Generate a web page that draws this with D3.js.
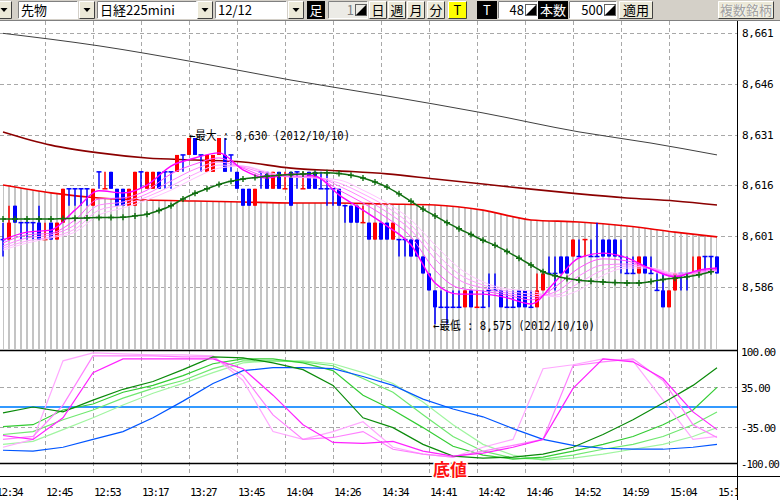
<!DOCTYPE html>
<html>
<head>
<meta charset="utf-8">
<script src="https://cdn.jsdelivr.net/npm/d3@7"></script>
<style>
body { margin: 0; background: #fff; }
svg { display: block; }
</style>
</head>
<body>
<svg id="chart" width="780" height="500"></svg>
<script>
// one candle per 48 ticks, 120 bars
let opens = [
  8600, 8600, 8610, 8605, 8605, 8605, 8605, 8600, 8605, 8600,
  8605, 8615, 8615, 8615, 8615, 8610, 8620, 8615, 8620, 8615,
  8615, 8610, 8610, 8620, 8615, 8615, 8620, 8620, 8620, 8620,
  8625, 8625, 8630, 8625, 8620, 8620, 8625, 8625, 8625, 8620,
  8615, 8615, 8610, 8620, 8620, 8615, 8620, 8615, 8620, 8620,
  8615, 8620, 8620, 8615, 8615, 8615, 8615, 8610, 8610, 8610,
  8605, 8605, 8600, 8605, 8605, 8600, 8600, 8600, 8600, 8600,
  8595, 8590, 8585, 8580, 8580, 8580, 8580, 8580, 8585, 8580,
  8580, 8585, 8585, 8585, 8580, 8580, 8585, 8585, 8580, 8580,
  8585, 8590, 8590, 8595, 8595, 8595, 8595, 8600, 8595, 8595,
  8600, 8600, 8600, 8595, 8590, 8590, 8590, 8595, 8590, 8585,
  8585, 8580, 8585, 8590, 8590, 8590, 8590, 8595, 8595, 8595
]
let highs = [
  8605, 8610, 8610, 8605, 8605, 8605, 8610, 8605, 8605, 8605,
  8615, 8615, 8615, 8615, 8615, 8615, 8620, 8620, 8620, 8615,
  8615, 8615, 8620, 8620, 8620, 8620, 8620, 8620, 8620, 8625,
  8625, 8630, 8630, 8625, 8625, 8625, 8630, 8630, 8625, 8620,
  8615, 8615, 8615, 8620, 8620, 8620, 8620, 8620, 8620, 8620,
  8620, 8620, 8620, 8620, 8620, 8615, 8615, 8610, 8610, 8610,
  8610, 8605, 8605, 8605, 8605, 8605, 8600, 8600, 8600, 8600,
  8595, 8590, 8585, 8585, 8585, 8585, 8585, 8585, 8585, 8585,
  8585, 8590, 8590, 8585, 8585, 8585, 8585, 8585, 8585, 8590,
  8590, 8595, 8595, 8595, 8595, 8600, 8600, 8600, 8600, 8605,
  8600, 8600, 8600, 8600, 8595, 8595, 8595, 8595, 8595, 8590,
  8590, 8585, 8590, 8590, 8590, 8595, 8595, 8595, 8595, 8595
]
let lows = [
  8595, 8600, 8605, 8600, 8600, 8600, 8600, 8600, 8600, 8600,
  8605, 8610, 8610, 8610, 8610, 8610, 8615, 8615, 8615, 8610,
  8610, 8610, 8610, 8615, 8615, 8615, 8615, 8615, 8615, 8620,
  8620, 8625, 8625, 8620, 8620, 8620, 8625, 8620, 8620, 8615,
  8610, 8610, 8610, 8615, 8615, 8615, 8615, 8615, 8610, 8615,
  8615, 8615, 8615, 8615, 8610, 8610, 8610, 8605, 8605, 8605,
  8605, 8600, 8600, 8600, 8600, 8600, 8595, 8595, 8595, 8595,
  8590, 8585, 8575, 8580, 8575, 8580, 8580, 8580, 8580, 8580,
  8580, 8580, 8585, 8580, 8580, 8580, 8580, 8580, 8580, 8580,
  8585, 8590, 8585, 8590, 8590, 8595, 8595, 8595, 8595, 8595,
  8595, 8595, 8595, 8590, 8590, 8590, 8590, 8590, 8590, 8585,
  8580, 8580, 8585, 8585, 8585, 8590, 8590, 8590, 8590, 8590
]
let closes = [
  8600, 8605, 8605, 8605, 8605, 8605, 8600, 8600, 8600, 8605,
  8615, 8615, 8615, 8615, 8615, 8615, 8620, 8615, 8615, 8610,
  8610, 8615, 8620, 8620, 8620, 8620, 8615, 8620, 8620, 8625,
  8625, 8630, 8625, 8625, 8625, 8625, 8630, 8620, 8625, 8615,
  8610, 8610, 8615, 8620, 8615, 8620, 8615, 8615, 8610, 8620,
  8615, 8615, 8615, 8615, 8615, 8615, 8610, 8610, 8605, 8605,
  8605, 8600, 8605, 8600, 8600, 8605, 8600, 8600, 8595, 8595,
  8590, 8585, 8580, 8580, 8580, 8580, 8580, 8585, 8580, 8580,
  8580, 8585, 8585, 8580, 8580, 8580, 8580, 8580, 8580, 8585,
  8590, 8590, 8590, 8590, 8590, 8600, 8595, 8600, 8595, 8595,
  8595, 8595, 8595, 8595, 8590, 8590, 8595, 8590, 8590, 8585,
  8580, 8585, 8590, 8590, 8590, 8590, 8595, 8595, 8595, 8590
]
// r = up (red), b = down (blue)
let sides = 'brbbbbbrbr' + 'rbbbbrbrbb' + 'brrbrrbbbr' + 'brbbrrrbbb' + 'bbrbbrbrbb' +
  'rbbbbbbbbb' + 'rbrbbrbbbb' + 'bbbbbbbrbr' + 'bbbbbbbbbr' + 'rbbbbrbrbb' +
  'bbbbbbrbbb' + 'brrbbrrbbb'

// moving averages, read at sample bars
let longKeys = [0, 16, 32, 48, 64, 80, 96, 108, 119]
let longMa = [8660.9, 8657.2, 8652.4, 8647.1, 8642.4, 8637.4, 8631.8, 8628.5, 8625.0]
let midKeys = [0, 8, 16, 24, 32, 40, 48, 56, 64, 72, 80, 88, 96, 104, 112, 119]
let maroonMa = [8631.8, 8627.9, 8625.6, 8624.1, 8623.5, 8622.9, 8621.1, 8620.3, 8619.4, 8617.9, 8616.4, 8614.9, 8613.5, 8612.3, 8611.4, 8610.2]
let redMa = [8616.1, 8613.8, 8612.3, 8611.7, 8611.4, 8611.1, 8610.8, 8610.8, 8610.5, 8610.2, 8608.7, 8605.8, 8605.2, 8604.0, 8602.2, 8600.8]
let greenKeys = [0, 2, 4, 6, 8, 10, 12, 14, 16, 18, 20, 22, 24, 26, 28, 30, 32, 34, 36, 38, 40, 42, 44, 46, 48, 50, 52, 54, 56, 58,
  60, 62, 64, 66, 68, 70, 72, 74, 76, 78, 80, 82, 84, 86, 88, 90, 92, 94, 96, 98, 100, 102, 104, 106, 108, 110, 112, 114, 116, 118]
let greenMa = [8606.1, 8606.1, 8606.1, 8606.1, 8606.1, 8606.2, 8606.3, 8606.4, 8606.5, 8606.5,
  8606.6, 8607.0, 8607.5, 8608.6, 8610.0, 8612.0, 8613.7, 8615.0, 8616.3, 8617.2,
  8617.9, 8618.3, 8618.7, 8619.0, 8619.2, 8619.4, 8619.6, 8619.7, 8619.5, 8619.0,
  8618.2, 8617.0, 8615.5, 8613.5, 8611.3, 8609.0, 8607.0, 8605.0, 8603.2, 8601.5,
  8599.8, 8598.3, 8596.5, 8594.5, 8592.5, 8590.5, 8589.3, 8588.5, 8588.0, 8587.7,
  8587.5, 8587.3, 8587.2, 8587.2, 8587.6, 8588.2, 8588.6, 8589.0, 8589.6, 8590.5]
let shortKeys = [0, 4, 8, 12, 16, 20, 24, 28, 32, 36, 40, 44, 48, 52, 56, 60, 64, 68, 72, 76, 80, 84, 88, 92, 96, 100, 104, 108, 112, 116, 119]
let pink1 = [8599.9, 8602.2, 8602.8, 8608.7, 8614.4, 8613.8, 8616.1, 8621.7, 8624.1, 8625.6, 8620.6, 8618.2, 8619.4, 8618.8, 8613.2, 8608.7,
  8604.0, 8598.4, 8587.2, 8583.9, 8583.9, 8582.8, 8581.0, 8587.5, 8594.6, 8596.0, 8594.6, 8591.3, 8589.0, 8591.0, 8591.6]
let pink2 = [8599.0, 8601.4, 8601.9, 8605.8, 8612.0, 8612.3, 8614.6, 8619.4, 8622.3, 8624.1, 8621.1, 8618.8, 8618.8, 8618.5, 8614.6, 8610.8,
  8606.4, 8600.8, 8591.0, 8585.7, 8584.8, 8583.6, 8582.2, 8586.0, 8591.6, 8594.3, 8593.7, 8591.3, 8589.3, 8590.7, 8591.3]
let pink3 = [8598.1, 8600.5, 8601.4, 8604.3, 8610.2, 8611.1, 8613.5, 8617.3, 8620.8, 8622.9, 8621.4, 8619.4, 8618.5, 8618.5, 8615.8, 8612.3,
  8608.1, 8602.8, 8594.3, 8588.1, 8585.7, 8584.2, 8583.1, 8584.5, 8589.3, 8592.5, 8592.8, 8591.6, 8589.5, 8590.4, 8591.0]
let pink4 = [8597.5, 8599.6, 8600.8, 8603.1, 8608.7, 8610.2, 8612.6, 8615.8, 8619.4, 8622.0, 8621.7, 8619.7, 8618.5, 8618.2, 8616.7, 8613.5,
  8609.6, 8604.3, 8596.3, 8589.8, 8586.6, 8584.8, 8583.9, 8583.6, 8587.2, 8591.0, 8592.2, 8591.6, 8589.8, 8590.1, 8591.0]
let pink5 = [8596.9, 8599.0, 8600.5, 8602.2, 8607.3, 8609.3, 8611.7, 8614.6, 8618.2, 8621.1, 8621.7, 8620.0, 8618.5, 8618.2, 8617.6, 8614.6,
  8610.8, 8605.8, 8598.4, 8591.6, 8587.5, 8585.4, 8584.8, 8583.1, 8585.1, 8589.5, 8591.6, 8591.6, 8590.1, 8590.1, 8590.7]

// lower oscillator panel
let oscKeys = [0, 5, 10, 15, 20, 25, 30, 35, 40, 45, 50, 55, 60, 65, 70, 75, 80, 85, 90, 95, 100, 105, 110, 115, 119]
let oscGreen0 = [-10.5, 0, -8.8, 12.3, 31.6, 45.6, 66.7, 89.5, 87.7, 78.9, 66.7, 38.6, -19.3, -36.8, -66.7, -87.7, -91.2, -89.5, -84.2, -71.9, -49.1, -22.8, 7.0, 38.6, 70.2]
let oscGreen1 = [-35.1, -31.6, -5.3, 5.3, 26.3, 38.6, 56.1, 77.2, 86.0, 86.0, 78.9, 64.9, 21.1, -5.3, -36.8, -70.2, -86.0, -93.0, -89.5, -78.9, -66.7, -52.6, -31.6, -5.3, 35.1]
let oscGreen2 = [-49.1, -43.9, -22.8, -5.3, 15.8, 33.3, 47.4, 68.4, 82.5, 82.5, 80.7, 73.7, 50.9, 26.3, -14.0, -52.6, -78.9, -91.2, -93.0, -86.0, -75.4, -66.7, -52.6, -31.6, -8.8]
let oscGreen3 = [-66.7, -61.4, -40.4, -19.3, 3.5, 24.6, 42.1, 61.4, 78.9, 82.5, 82.5, 77.2, 61.4, 42.1, 8.8, -31.6, -66.7, -86.0, -94.7, -91.2, -84.2, -75.4, -66.7, -52.6, -36.8]
let oscBlue = [-77.2, -78.9, -71.9, -57.9, -43.9, -19.3, 10.5, 42.1, 64.9, 70.2, 70.2, 68.4, 54.4, 38.6, 14.0, -3.5, -17.5, -38.6, -57.9, -68.4, -73.7, -75.4, -75.4, -71.9, -66.7]
let oscPink1 = [-50.9, -57.9, -19.3, 61.4, 86.0, 86.0, 86.0, 86.0, 68.4, 21.1, -31.6, -63.2, -64.9, -61.4, -78.9, -87.7, -82.5, -71.9, -57.9, 33.3, 86.0, 80.7, 50.9, -8.8, -40.4]
let oscPink2 = [-57.9, -52.6, 3.5, 91.2, 91.2, 91.2, 89.5, 89.5, 56.1, -14.0, -57.9, -54.4, -43.9, -75.4, -84.2, -89.5, -78.9, -68.4, -57.9, 73.7, 80.7, 86.0, 47.4, -31.6, -54.4]
let oscPink3 = [-71.9, -57.9, 82.5, 96.5, 94.7, 93.0, 93.0, 91.2, 47.4, -43.9, -57.9, -43.9, -26.3, -71.9, -84.2, -89.5, -71.9, -57.9, 68.4, 75.4, 86.0, 82.5, 12.3, -57.9, -52.6]

// axes
let priceTicks = [8661, 8646, 8631, 8616, 8601, 8586]
let oscTicks = [100, 35, -35, -100]
let oscLabels = ['100.00', '35.00', '-35.00', '-100.00']
let timeKeys = [-1.3, 7, 15, 23, 31, 39, 47, 55, 63, 71, 79, 87, 95, 103, 111]
let timeLabels = ['12:34', '12:45', '12:53', '13:17', '13:27', '13:45', '14:04', '14:26', '14:34', '14:41', '14:42', '14:46', '14:52', '14:59', '15:04', '15:10']

let svg = d3.select('#chart')
let x = d3.scaleLinear().domain([0, 119]).range([3, 717])
let y = d3.scaleLinear().domain([8586, 8661]).range([287, 33])
let yo = d3.scaleLinear().domain([-100, 100]).range([463, 351])
let AX = 737
let mono = '"DejaVu Sans Mono", "Noto Sans CJK JP", monospace'
let jp = '"Noto Sans CJK JP", sans-serif'

function main () {
  let defs = svg.append('defs')
  defs.append('clipPath').attr('id', 'mainClip').append('rect').attr('x', 0).attr('y', 21).attr('width', AX).attr('height', 328)
  defs.append('clipPath').attr('id', 'oscClip').append('rect').attr('x', 0).attr('y', 350).attr('width', AX).attr('height', 113)
  defs.append('clipPath').attr('id', 'timeClip').append('rect').attr('x', 0).attr('y', 477).attr('width', AX).attr('height', 23)
  let area = d3.area().x((d) => x(d[0])).y0(349).y1((d) => y(d[1])).curve(d3.curveMonotoneX)
  defs.append('clipPath').attr('id', 'belowRed').append('path').attr('d', area(d3.zip(midKeys, redMa)))

  drawGrid()
  drawMain()
  drawOsc()
  drawAxes()
  drawNotes()
  drawToolbar()
}

function drawGrid () {
  let g = svg.append('g').attr('stroke', '#a8a8a8').attr('stroke-dasharray', '4,3')
  g.selectAll('.vg').data(timeKeys.slice(1)).join('line')
    .attr('x1', (d) => Math.round(x(d)) + 0.5).attr('x2', (d) => Math.round(x(d)) + 0.5)
    .attr('y1', 21).attr('y2', 476)
  g.selectAll('.hg').data(priceTicks).join('line')
    .attr('x1', 0).attr('x2', AX).attr('y1', (d) => Math.round(y(d)) + 0.5).attr('y2', (d) => Math.round(y(d)) + 0.5)
  g.selectAll('.og').data([35, -35]).join('line')
    .attr('x1', 0).attr('x2', AX).attr('y1', (d) => Math.round(yo(d)) + 0.5).attr('y2', (d) => Math.round(yo(d)) + 0.5)
}

function drawMain () {
  let g = svg.append('g').attr('clip-path', 'url(#mainClip)')
  let bars = d3.range(opens.length).map((i) => ({
    i: i, o: opens[i], h: highs[i], l: lows[i], c: closes[i],
    col: sides[i] === 'r' ? '#ff0000' : '#0000ff'
  }))

  // grey columns under the red average
  g.append('g').attr('clip-path', 'url(#belowRed)')
    .selectAll('line').data(bars).join('line')
    .attr('x1', (d) => x(d.i)).attr('x2', (d) => x(d.i)).attr('y1', 21).attr('y2', 349)
    .attr('stroke', '#c4c4c4').attr('stroke-width', 2)

  let line = d3.line().x((d) => x(d[0])).y((d) => y(d[1])).curve(d3.curveMonotoneX)
  g.append('path').attr('d', line(d3.zip(longKeys, longMa))).attr('fill', 'none').attr('stroke', '#404040').attr('stroke-width', 1)
  g.append('path').attr('d', line(d3.zip(midKeys, maroonMa))).attr('fill', 'none').attr('stroke', '#8b0000').attr('stroke-width', 1.6)
  g.append('path').attr('d', line(d3.zip(midKeys, redMa))).attr('fill', 'none').attr('stroke', '#ee0000').attr('stroke-width', 1.6)

  // candles
  g.selectAll('.wick').data(bars).join('line')
    .attr('x1', (d) => x(d.i)).attr('x2', (d) => x(d.i))
    .attr('y1', (d) => y(d.h)).attr('y2', (d) => y(d.l))
    .attr('stroke', (d) => d.col).attr('stroke-width', 1.5)
  g.selectAll('.body').data(bars).join('rect')
    .attr('x', (d) => x(d.i) - (d.o === d.c ? 2.5 : 2))
    .attr('width', (d) => d.o === d.c ? 5 : 4)
    .attr('y', (d) => d.o === d.c ? y(d.o) - 0.75 : y(Math.max(d.o, d.c)))
    .attr('height', (d) => d.o === d.c ? 1.5 : Math.abs(y(d.o) - y(d.c)))
    .attr('fill', (d) => d.col)

  // short averages ribbon
  let pinks = [
    [pink5, '#ffc4ff', 1], [pink4, '#ffa4ff', 1], [pink3, '#ff84ff', 1],
    [pink2, '#ff50ff', 1], [pink1, '#ff00ff', 1.4]
  ]
  pinks.forEach((p) => {
    g.append('path').attr('d', line(d3.zip(shortKeys, p[0]))).attr('fill', 'none')
      .attr('stroke', p[1]).attr('stroke-width', p[2])
  })

  // green average with cross markers
  let gpts = d3.zip(greenKeys, greenMa)
  g.append('path').attr('d', line(gpts)).attr('fill', 'none').attr('stroke', '#0f6e0f').attr('stroke-width', 1.5)
  g.selectAll('.gm').data(gpts).join('path')
    .attr('transform', (d) => `translate(${x(d[0])},${y(d[1])})`)
    .attr('d', 'M-3,0H3M0,-3V3').attr('stroke', '#0f6e0f').attr('stroke-width', 1.4)
}

function drawOsc () {
  let g = svg.append('g').attr('clip-path', 'url(#oscClip)')
  g.append('line').attr('x1', 0).attr('x2', AX).attr('y1', yo(0)).attr('y2', yo(0))
    .attr('stroke', '#3399ff').attr('stroke-width', 2)
  let line = d3.line().x((d) => x(d[0])).y((d) => yo(d[1]))
  let series = [
    [oscGreen3, '#a0f5a0'], [oscGreen2, '#70e870'], [oscGreen1, '#33cc33'],
    [oscPink3, '#ffa8ff'], [oscPink2, '#ff80ff'], [oscBlue, '#0055ff'],
    [oscGreen0, '#0a8a0a'], [oscPink1, '#ff22ff']
  ]
  series.forEach((s) => {
    g.append('path').attr('d', line(d3.zip(oscKeys, s[0]))).attr('fill', 'none')
      .attr('stroke', s[1]).attr('stroke-width', 1.2)
  })
  svg.append('line').attr('x1', 0).attr('x2', AX).attr('y1', 350.5).attr('y2', 350.5).attr('stroke', '#000').attr('stroke-width', 1.5)
  svg.append('line').attr('x1', 0).attr('x2', AX).attr('y1', 463.5).attr('y2', 463.5).attr('stroke', '#000').attr('stroke-width', 1.5)
}

function drawAxes () {
  svg.append('line').attr('x1', AX + 0.5).attr('x2', AX + 0.5).attr('y1', 20).attr('y2', 500).attr('stroke', '#000')
  svg.append('line').attr('x1', 0).attr('x2', 780).attr('y1', 476.5).attr('y2', 476.5).attr('stroke', '#000')

  let fmt = d3.format(',')
  svg.append('g').selectAll('text').data(priceTicks).join('text')
    .attr('x', AX + 5).attr('y', (d) => y(d) + 4)
    .attr('font-family', mono).attr('font-size', 11).attr('letter-spacing', -0.4)
    .text((d) => fmt(d))
  svg.append('g').selectAll('text').data(oscTicks).join('text')
    .attr('x', AX + 4).attr('y', (d, i) => yo(d) + 5)
    .attr('font-family', mono).attr('font-size', 11).attr('letter-spacing', -0.9)
    .attr('textLength', (d, i) => oscLabels[i].length > 6 ? 38 : null)
    .attr('lengthAdjust', 'spacingAndGlyphs')
    .text((d, i) => oscLabels[i])

  svg.append('g').attr('clip-path', 'url(#timeClip)')
    .selectAll('text').data(timeLabels).join('text')
    .attr('x', (d, i) => x(i < timeKeys.length ? timeKeys[i] : 119) + 1)
    .attr('y', 496)
    .attr('font-family', mono).attr('font-size', 11).attr('letter-spacing', -1.4)
    .text((d) => d)
}

function drawNotes () {
  svg.append('text').attr('x', 189).attr('y', 140)
    .attr('font-family', mono).attr('font-size', 12)
    .attr('textLength', 161).attr('lengthAdjust', 'spacingAndGlyphs')
    .text('←最大 : 8,630 (2012/10/10)')
  svg.append('text').attr('x', 433).attr('y', 330)
    .attr('font-family', mono).attr('font-size', 12)
    .attr('textLength', 162).attr('lengthAdjust', 'spacingAndGlyphs')
    .text('←最低 : 8,575 (2012/10/10)')
  svg.append('text').attr('x', 433).attr('y', 476)
    .attr('font-family', jp).attr('font-size', 17).attr('font-weight', 'bold')
    .attr('fill', '#ff1010').attr('stroke', '#ffffff').attr('stroke-width', 3)
    .attr('paint-order', 'stroke').attr('stroke-linejoin', 'round')
    .text('底値')
}

function bevel (g, x0, w, fill, raised) {
  let y0 = 1
  let h = 18
  g.append('rect').attr('x', x0).attr('y', y0).attr('width', w).attr('height', h).attr('fill', fill)
  let lt = raised ? '#ffffff' : '#808080'
  let rb = raised ? '#404040' : '#ffffff'
  g.append('path').attr('d', `M${x0 + 0.5},${y0 + h - 0.5}V${y0 + 0.5}H${x0 + w - 0.5}`).attr('fill', 'none').attr('stroke', lt)
  g.append('path').attr('d', `M${x0 + 0.5},${y0 + h - 0.5}H${x0 + w - 0.5}V${y0 + 0.5}`).attr('fill', 'none').attr('stroke', rb)
}

function label (g, x0, txt, col, anchor) {
  g.append('text').attr('x', x0).attr('y', 15).attr('font-family', jp).attr('font-size', 13)
    .attr('fill', col || '#000').attr('text-anchor', anchor || 'start').text(txt)
}

function drop (g, x0) {
  bevel(g, x0, 16, '#ece9d8', true)
  g.append('path').attr('d', `M${x0 + 4.5},8H${x0 + 11.5}L${x0 + 8},12Z`).attr('fill', '#000')
}

function spin (g, x0) {
  g.append('rect').attr('x', x0 + 0.5).attr('y', 4.5).attr('width', 11).attr('height', 11).attr('fill', 'none').attr('stroke', '#606060')
  g.append('path').attr('d', `M${x0 + 1},15L${x0 + 11},5V15Z`).attr('fill', '#000')
}

function drawToolbar () {
  let g = svg.append('g')
  g.append('rect').attr('x', 0).attr('y', 0).attr('width', 780).attr('height', 20).attr('fill', '#d4d0c8')
  g.append('line').attr('x1', 0).attr('x2', 780).attr('y1', 20.5).attr('y2', 20.5).attr('stroke', '#808080')

  drop(g, -4)
  bevel(g, 18, 60, '#fff', false); label(g, 21, '先物')
  drop(g, 79)
  bevel(g, 97, 100, '#fff', false); label(g, 100, '日経225mini')
  drop(g, 197)
  bevel(g, 215, 72, '#fff', false); label(g, 218, '12/12')
  drop(g, 288)
  g.append('rect').attr('x', 307).attr('y', 1).attr('width', 18).attr('height', 18).attr('fill', '#000')
  label(g, 316, '足', '#fff', 'middle')
  bevel(g, 328, 40, '#ecebe6', false); label(g, 354, '1', '#808080', 'end'); spin(g, 355)
  bevel(g, 369, 18, '#ece9d8', true); label(g, 378, '日', '#000', 'middle')
  bevel(g, 388, 18, '#ece9d8', true); label(g, 397, '週', '#000', 'middle')
  bevel(g, 407, 18, '#ece9d8', true); label(g, 416, '月', '#000', 'middle')
  bevel(g, 427, 18, '#ece9d8', true); label(g, 436, '分', '#000', 'middle')
  bevel(g, 448, 19, '#ffff00', true); label(g, 457.5, 'T', '#000', 'middle')
  g.append('rect').attr('x', 477).attr('y', 1).attr('width', 20).attr('height', 18).attr('fill', '#000')
  label(g, 487, 'T', '#fff', 'middle')
  bevel(g, 498, 40, '#fff', false); label(g, 524, '48', '#000', 'end'); spin(g, 525)
  g.append('rect').attr('x', 538).attr('y', 1).attr('width', 30).attr('height', 18).attr('fill', '#000')
  label(g, 553, '本数', '#fff', 'middle')
  bevel(g, 569, 48, '#fff', false); label(g, 603, '500', '#000', 'end'); spin(g, 604)
  bevel(g, 619, 34, '#ece9d8', true); label(g, 636, '適用', '#000', 'middle')
  bevel(g, 718, 56, '#ece9d8', true)
  label(g, 747, '複数銘柄', '#ffffff', 'middle')
  label(g, 746, '複数銘柄', '#a0a0a0', 'middle')
}

main()
</script>
</body>
</html>
